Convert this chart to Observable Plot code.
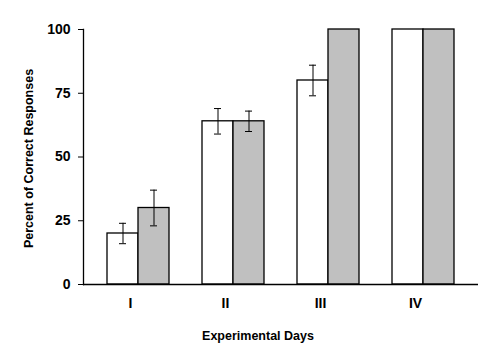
<!DOCTYPE html>
<html>
<head>
<meta charset="utf-8">
<script src="https://cdn.jsdelivr.net/npm/d3@7"></script>
<script src="https://cdn.jsdelivr.net/npm/@observablehq/plot@0.6"></script>
<style>
  html, body { margin: 0; padding: 0; background: #fff; }
</style>
</head>
<body>
<div id="chart"></div>
<script>
const days = ["I", "II", "III", "IV"];
const controlMean = [20, 64, 80, 100];
const controlErr = [4, 5, 6, null];
const treatMean = [30, 64, 100, 100];
const treatErr = [7, 4, null, null];
const yTicks = [0, 25, 50, 75, 100];
const xTitle = "Experimental Days";
const yTitle = "Percent of Correct Responses";

const control = days.map((d, i) => ({day: d, value: controlMean[i], err: controlErr[i]}));
const treat = days.map((d, i) => ({day: d, value: treatMean[i], err: treatErr[i]}));
const controlE = control.filter(d => d.err != null).map(d => ({...d, lo: d.value - d.err, hi: d.value + d.err}));
const treatE = treat.filter(d => d.err != null).map(d => ({...d, lo: d.value - d.err, hi: d.value + d.err}));

const font = "'Liberation Sans', Arial, Helvetica, sans-serif";

const chart = Plot.plot({
  width: 493,
  height: 352,
  marginLeft: 83,
  marginRight: 15,
  marginTop: 29,
  marginBottom: 68,
  style: {fontFamily: font, background: "white", color: "black"},
  x: {domain: days, paddingInner: 0.347, paddingOuter: 0.25, axis: null},
  y: {domain: [0, 100], axis: null},
  marks: [
    Plot.barY(control, {x: "day", y: "value", fill: "white", stroke: "black", strokeWidth: 1.3, insetRight: 31}),
    Plot.barY(treat, {x: "day", y: "value", fill: "#c0c0c0", stroke: "black", strokeWidth: 1.3, insetLeft: 31}),
    Plot.ruleX(controlE, {x: "day", y1: "lo", y2: "hi", dx: -15.5, stroke: "black"}),
    Plot.tickY(controlE, {x: "day", y: "lo", insetLeft: 12, insetRight: 43, stroke: "black"}),
    Plot.tickY(controlE, {x: "day", y: "hi", insetLeft: 12, insetRight: 43, stroke: "black"}),
    Plot.ruleX(treatE, {x: "day", y1: "lo", y2: "hi", dx: 15.5, stroke: "black"}),
    Plot.tickY(treatE, {x: "day", y: "lo", insetLeft: 43, insetRight: 12, stroke: "black"}),
    Plot.tickY(treatE, {x: "day", y: "hi", insetLeft: 43, insetRight: 12, stroke: "black"}),
    Plot.ruleY([0], {stroke: "black", strokeWidth: 1.3}),
    Plot.frame({anchor: "left", stroke: "black", strokeWidth: 1.3}),
    Plot.axisY({ticks: yTicks, tickSize: 5, tickPadding: 8, fontSize: 14, fontWeight: "bold", label: null, stroke: "black"}),
    Plot.axisX({tickSize: 0, tickPadding: 14, fontSize: 14, fontWeight: "bold", label: null, dx: -8}),
    Plot.text([xTitle], {frameAnchor: "bottom", dy: 51, dx: -23, fontSize: 12.5, fontWeight: "bold", lineAnchor: "middle", textAnchor: "middle"}),
    Plot.text([yTitle], {frameAnchor: "left", rotate: -90, dx: -55, dy: 1.5, fontSize: 12.5, fontWeight: "bold", lineAnchor: "middle", textAnchor: "middle"})
  ]
});
document.getElementById("chart").appendChild(chart);
</script>
</body>
</html>
